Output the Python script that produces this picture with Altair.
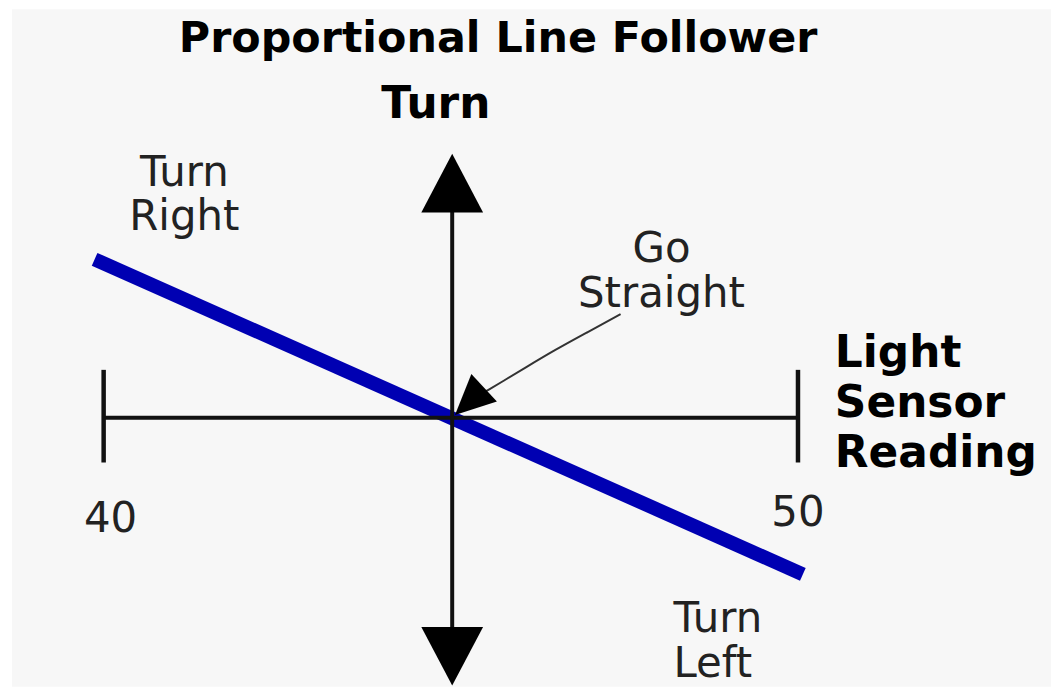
import altair as alt
import pandas as pd

# ---- scale domains (light sensor reading on x, turn amount on y) ----
reading_domain = [38.68, 53.644]
turn_domain = [-1.742, 2.645]

# ---- data ----
# proportional response line: turn = -(reading - 45) / 5
line_reading = [39.87, 50.07]
line_turn = [1.026, -1.014]

# horizontal (reading) axis and its end bars
haxis_reading = [40]
haxis_reading_end = [50]
haxis_turn = [0]
bar_reading = [40, 50]
bar_top = [0.31, 0.31]
bar_bottom = [-0.29, -0.29]
tick_labels = ["40", "50"]
tick_label_reading = [40.1, 50.0]
tick_label_turn = [-0.742, -0.703]

# vertical (turn) axis with arrowheads
vaxis_reading = [45.02]
vaxis_top = [1.35]
vaxis_bottom = [-1.37]
arrow_up_turn = [1.519]
arrow_down_turn = [-1.545]

# "Go Straight" pointer curve
curve_reading = [47.445, 46.973, 46.499, 46.069, 45.75, 45.50]
curve_turn = [0.671, 0.555, 0.439, 0.323, 0.236, 0.170]
pointer_reading = [45.27]
pointer_turn = [0.106]

# annotation texts
title_text = "Proportional Line Follower"
turn_axis_text = "Turn"
sensor_text = "Light\nSensor\nReading"
turn_right_text = "Turn\nRight"
turn_left_text = "Turn\nLeft"
go_straight_text = "Go\nStraight"

FONT = "DejaVu Sans"

X = lambda f="r": alt.X(f"{f}:Q", scale=alt.Scale(domain=reading_domain, nice=False, zero=False), axis=None)
Y = lambda f="t": alt.Y(f"{f}:Q", scale=alt.Scale(domain=turn_domain, nice=False, zero=False), axis=None)

layers = []

# blue proportional line
layers.append(
    alt.Chart(pd.DataFrame({"r": line_reading, "t": line_turn}))
    .mark_line(color="#0000b2", strokeWidth=14, strokeCap="butt")
    .encode(x=X(), y=Y())
)

# horizontal axis
layers.append(
    alt.Chart(pd.DataFrame({"r": haxis_reading, "r2": haxis_reading_end, "t": haxis_turn}))
    .mark_rule(color="#111111", strokeWidth=4)
    .encode(x=X(), x2="r2:Q", y=Y())
)
# end bars
layers.append(
    alt.Chart(pd.DataFrame({"r": bar_reading, "t": bar_top, "t2": bar_bottom}))
    .mark_rule(color="#111111", strokeWidth=4.5)
    .encode(x=X(), y=Y(), y2="t2:Q")
)
# vertical axis
layers.append(
    alt.Chart(pd.DataFrame({"r": vaxis_reading, "t": vaxis_top, "t2": vaxis_bottom}))
    .mark_rule(color="#111111", strokeWidth=4)
    .encode(x=X(), y=Y(), y2="t2:Q")
)
# arrowheads
layers.append(
    alt.Chart(pd.DataFrame({"r": vaxis_reading, "t": arrow_up_turn}))
    .mark_point(shape="M0,-0.95L1,0.95L-1,0.95Z", filled=True, size=3844,
                color="black", opacity=1, strokeWidth=0)
    .encode(x=X(), y=Y())
)
layers.append(
    alt.Chart(pd.DataFrame({"r": vaxis_reading, "t": arrow_down_turn}))
    .mark_point(shape="M0,0.95L1,-0.95L-1,-0.95Z", filled=True, size=3844,
                color="black", opacity=1, strokeWidth=0)
    .encode(x=X(), y=Y())
)

# Go Straight pointer
layers.append(
    alt.Chart(pd.DataFrame({"r": curve_reading, "t": curve_turn}))
    .mark_line(color="#333333", strokeWidth=2, interpolate="basis")
    .encode(x=X(), y=Y())
)
layers.append(
    alt.Chart(pd.DataFrame({"r": pointer_reading, "t": pointer_turn}))
    .mark_point(shape="M0,-1L0.94,1L-0.94,1Z", filled=True, size=1600, angle=227,
                color="black", opacity=1, strokeWidth=0)
    .encode(x=X(), y=Y())
)

# tick labels
layers.append(
    alt.Chart(pd.DataFrame({"r": tick_label_reading, "t": tick_label_turn, "label": tick_labels}))
    .mark_text(font=FONT, fontSize=42, color="#222222", align="center", baseline="alphabetic")
    .encode(x=X(), y=Y(), text="label:N")
)


def label(text, r, t, size, bold=False, align="center", color="#222222"):
    return (
        alt.Chart(pd.DataFrame({"r": [r], "t": [t], "label": [text]}))
        .mark_text(font=FONT, fontSize=size, fontWeight="bold" if bold else "normal",
                   color=color, align=align, baseline="alphabetic",
                   lineBreak="\n", lineHeight=50 if bold else 45)
        .encode(x=X(), y=Y(), text="label:N")
    )


layers.append(label(title_text, 45.68, 2.368, 43, bold=True, color="black"))
layers.append(label(turn_axis_text, 44.785, 1.942, 44, bold=True, color="black"))
layers.append(label(sensor_text, 50.531, 0.329, 44, bold=True, align="left", color="black"))
layers.append(label(turn_right_text, 41.162, 1.503, 42))
layers.append(label(go_straight_text, 48.034, 1.006, 42))
layers.append(label(turn_left_text, 48.207, -1.387, 42, align="left"))

chart = (
    alt.layer(*layers)
    .properties(
        width=1043,
        height=680,
        autosize=alt.AutoSizeParams(type="none"),
        padding={"left": 4, "top": 0, "right": 0, "bottom": 0},
        background="white",
    )
    .configure_view(fill="#f7f7f7", stroke=None)
)

chart.save("out.html", embed_options={"renderer": "svg", "actions": False})
